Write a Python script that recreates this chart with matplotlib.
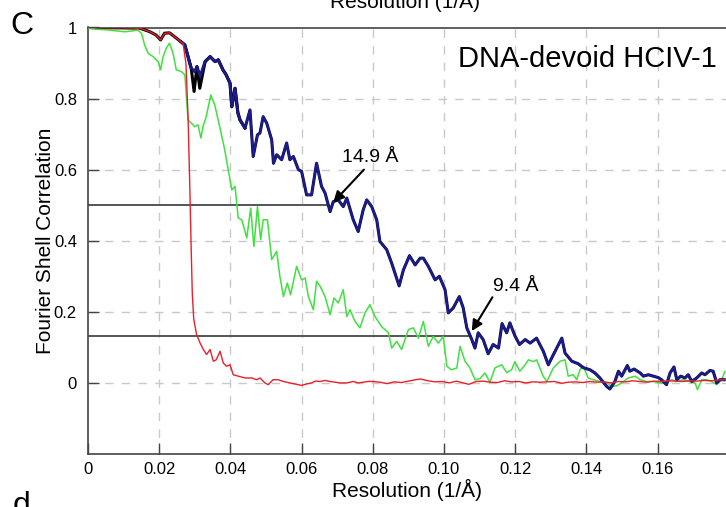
import matplotlib
matplotlib.use("Agg")
import matplotlib.pyplot as plt
import matplotlib.patheffects as pe

plt.rcParams['font.family'] = ['Liberation Sans', 'DejaVu Sans']

# ---------------- data ----------------
blue_x = [0.0261, 0.0272, 0.0281, 0.0290, 0.0300, 0.0306, 0.0315, 0.0329, 0.0343, 0.0357,
          0.0366, 0.0379, 0.0388, 0.0399, 0.0404, 0.0413, 0.0421, 0.0427, 0.0441, 0.0455,
          0.0464, 0.0476, 0.0483, 0.0492, 0.0502, 0.0516, 0.0521, 0.0530, 0.0544, 0.0558,
          0.0567, 0.0577, 0.0591, 0.0600, 0.0614, 0.0628, 0.0642, 0.0656, 0.0666, 0.0680,
          0.0689, 0.0703, 0.0717, 0.0727, 0.0745, 0.0759, 0.0773, 0.0783, 0.0797, 0.0811,
          0.0820, 0.0839, 0.0853, 0.0874, 0.0886, 0.0903, 0.0919, 0.0933, 0.0942, 0.0956,
          0.0975, 0.0987, 0.1003, 0.1012, 0.1026, 0.1043, 0.1054, 0.1064, 0.1078, 0.1087,
          0.1096, 0.1110, 0.1124, 0.1138, 0.1153, 0.1163, 0.1176, 0.1185, 0.1199, 0.1212,
          0.1228, 0.1242, 0.1260, 0.1279, 0.1293, 0.1312, 0.1331, 0.1340, 0.1359, 0.1377,
          0.1391, 0.1410, 0.1424, 0.1438, 0.1457, 0.1466, 0.1480, 0.1490, 0.1499, 0.1515,
          0.1522, 0.1534, 0.1551, 0.1560, 0.1574, 0.1588, 0.1602, 0.1611, 0.1625, 0.1635,
          0.1646, 0.1654, 0.1665, 0.1677, 0.1686, 0.1696, 0.1710, 0.1724, 0.1733, 0.1747,
          0.1756, 0.1766, 0.1775, 0.1787]
blue_y = [0.960, 0.951, 0.918, 0.885, 0.876, 0.890, 0.862, 0.904, 0.918, 0.904,
          0.909, 0.881, 0.867, 0.843, 0.777, 0.829, 0.760, 0.740, 0.717, 0.768,
          0.637, 0.698, 0.703, 0.749, 0.731, 0.684, 0.618, 0.642, 0.628, 0.675,
          0.628, 0.637, 0.600, 0.595, 0.529, 0.529, 0.618, 0.553, 0.534, 0.482,
          0.510, 0.515, 0.496, 0.520, 0.459, 0.426, 0.487, 0.515, 0.496, 0.459,
          0.398, 0.375, 0.337, 0.273, 0.318, 0.358, 0.332, 0.351, 0.351, 0.328,
          0.290, 0.300, 0.262, 0.197, 0.211, 0.243, 0.211, 0.155, 0.122, 0.098,
          0.141, 0.122, 0.082, 0.108, 0.098, 0.167, 0.141, 0.169, 0.133, 0.108,
          0.122, 0.112, 0.126, 0.089, 0.051, 0.089, 0.126, 0.084, 0.061, 0.054,
          0.043, 0.037, 0.028, 0.014, -0.010, -0.017, 0.004, 0.033, 0.019, 0.049,
          0.033, 0.039, 0.028, 0.019, 0.023, 0.019, 0.015, 0.009, -0.005, 0.028,
          0.045, 0.009, 0.019, 0.014, 0.023, 0.004, 0.014, 0.028, 0.023, 0.035,
          0.033, 0.000, 0.009, 0.009]

black_x = [0.0, 0.0034, 0.0090, 0.0146, 0.0174, 0.0191, 0.0204, 0.0215, 0.0229, 0.0247,
           0.0261, 0.0272, 0.0281, 0.0290, 0.0298, 0.0306, 0.0314, 0.0329, 0.0343, 0.0357,
           0.0366, 0.0379, 0.0388, 0.0399, 0.0404, 0.0413, 0.0421, 0.0427, 0.0441]
black_y = [1.000, 0.999, 0.999, 0.998, 0.988, 0.979, 0.965, 0.984, 0.985, 0.971,
           0.960, 0.951, 0.918, 0.885, 0.820, 0.890, 0.829, 0.904, 0.918, 0.904,
           0.909, 0.881, 0.867, 0.843, 0.777, 0.829, 0.760, 0.740, 0.717]

green_x = [0.0, 0.0028, 0.0056, 0.0084, 0.0103, 0.0122, 0.0140, 0.0150, 0.0159, 0.0169,
           0.0183, 0.0197, 0.0204, 0.0211, 0.0220, 0.0229, 0.0239, 0.0248, 0.0262, 0.0272,
           0.0281, 0.0290, 0.0300, 0.0309, 0.0317, 0.0323, 0.0332, 0.0345, 0.0356, 0.0370,
           0.0384, 0.0399, 0.0404, 0.0413, 0.0422, 0.0432, 0.0446, 0.0457, 0.0466, 0.0476,
           0.0485, 0.0492, 0.0504, 0.0516, 0.0530, 0.0539, 0.0549, 0.0560, 0.0569, 0.0586,
           0.0600, 0.0610, 0.0619, 0.0633, 0.0642, 0.0652, 0.0666, 0.0680, 0.0691, 0.0703,
           0.0717, 0.0727, 0.0736, 0.0750, 0.0764, 0.0778, 0.0792, 0.0806, 0.0825, 0.0844,
           0.0853, 0.0867, 0.0881, 0.0900, 0.0914, 0.0928, 0.0942, 0.0956, 0.0970, 0.0984,
           0.0998, 0.1008, 0.1021, 0.1036, 0.1045, 0.1059, 0.1073, 0.1087, 0.1101, 0.1115,
           0.1129, 0.1143, 0.1162, 0.1176, 0.1190, 0.1199, 0.1213, 0.1228, 0.1237, 0.1251,
           0.1260, 0.1279, 0.1289, 0.1307, 0.1326, 0.1340, 0.1349, 0.1363, 0.1373, 0.1382,
           0.1391, 0.1405, 0.1419, 0.1438, 0.1457, 0.1471, 0.1485, 0.1499, 0.1518, 0.1537,
           0.1551, 0.1569, 0.1588, 0.1607, 0.1621, 0.1640, 0.1653, 0.1672, 0.1691, 0.1705,
           0.1712, 0.1724, 0.1738, 0.1752, 0.1766, 0.1780, 0.1789]
green_y = [0.998, 0.995, 0.993, 0.990, 0.988, 0.990, 0.993, 0.984, 0.951, 0.927,
           0.918, 0.904, 0.881, 0.918, 0.942, 0.956, 0.927, 0.881, 0.876, 0.867,
           0.740, 0.731, 0.721, 0.726, 0.689, 0.721, 0.749, 0.810, 0.782, 0.721,
           0.656, 0.571, 0.543, 0.553, 0.464, 0.459, 0.408, 0.492, 0.384, 0.496,
           0.403, 0.459, 0.459, 0.347, 0.370, 0.300, 0.243, 0.281, 0.248, 0.328,
           0.290, 0.295, 0.243, 0.206, 0.286, 0.272, 0.243, 0.192, 0.239, 0.225,
           0.262, 0.187, 0.206, 0.173, 0.155, 0.197, 0.220, 0.187, 0.158, 0.141,
           0.098, 0.117, 0.094, 0.150, 0.155, 0.126, 0.173, 0.103, 0.131, 0.112,
           0.131, 0.047, 0.037, 0.042, 0.103, 0.061, 0.042, 0.009, 0.012, 0.028,
           0.002, 0.042, 0.051, 0.029, 0.037, 0.060, 0.033, 0.051, 0.065, 0.060,
           0.065, 0.018, 0.004, 0.042, 0.061, 0.065, 0.019, 0.023, 0.009, 0.037,
           0.047, 0.014, 0.009, 0.004, 0.000, -0.010, -0.008, 0.000, 0.014, 0.019,
           0.009, 0.004, 0.004, 0.000, 0.000, 0.009, 0.004, 0.009, 0.004, 0.000,
           -0.019, 0.009, 0.009, 0.004, -0.005, 0.009, 0.032]

red_x = [0.0, 0.0050, 0.0100, 0.0146, 0.0174, 0.0191, 0.0204, 0.0215, 0.0229, 0.0247,
         0.0261, 0.0267, 0.0275, 0.0281, 0.0286, 0.0290, 0.0293, 0.0297, 0.0305, 0.0315,
         0.0324, 0.0333, 0.0343, 0.0352, 0.0360, 0.0371, 0.0380, 0.0389, 0.0399, 0.0408,
         0.0422, 0.0441, 0.0460, 0.0474, 0.0483, 0.0497, 0.0506, 0.0520, 0.0534, 0.0549,
         0.0567, 0.0581, 0.0600, 0.0614, 0.0628, 0.0638, 0.0652, 0.0666, 0.0680, 0.0694,
         0.0708, 0.0727, 0.0745, 0.0759, 0.0773, 0.0787, 0.0801, 0.0820, 0.0840, 0.0860,
         0.0880, 0.0900, 0.0920, 0.0935, 0.0955, 0.0975, 0.0995, 0.1015, 0.1035, 0.1050,
         0.1070, 0.1090, 0.1110, 0.1130, 0.1150, 0.1170, 0.1190, 0.1210, 0.1230, 0.1250,
         0.1270, 0.1290, 0.1310, 0.1330, 0.1350, 0.1370, 0.1390, 0.1410, 0.1430, 0.1450,
         0.1470, 0.1490, 0.1510, 0.1530, 0.1550, 0.1570, 0.1590, 0.1610, 0.1630, 0.1650,
         0.1670, 0.1690, 0.1710, 0.1730, 0.1750, 0.1770, 0.1787]
red_y = [1.000, 0.999, 0.999, 0.998, 0.988, 0.979, 0.965, 0.984, 0.985, 0.971,
         0.960, 0.955, 0.900, 0.750, 0.550, 0.370, 0.250, 0.180, 0.136, 0.112,
         0.094, 0.080, 0.094, 0.061, 0.065, 0.089, 0.056, 0.047, 0.051, 0.023,
         0.019, 0.014, 0.014, 0.009, 0.014, 0.000, -0.005, 0.009, 0.009, 0.004,
         0.000, -0.003, -0.007, -0.003, 0.000, 0.005, 0.004, 0.007, 0.004, 0.002,
         0.000, 0.000, 0.004, 0.000, 0.002, 0.004, 0.004, 0.002, -0.002, 0.003,
         0.001, 0.005, 0.009, 0.011, 0.006, 0.003, 0.004, 0.000, 0.005, 0.001,
         -0.004, 0.004, 0.005, 0.002, 0.001, 0.006, 0.003, 0.004, 0.000, 0.003,
         0.002, 0.003, 0.004, -0.001, 0.002, 0.003, 0.001, 0.004, 0.002, 0.003,
         0.000, 0.004, 0.003, 0.006, 0.004, 0.002, 0.005, 0.004, 0.006, 0.005,
         0.004, 0.006, 0.005, 0.007, 0.006, 0.008, 0.009]

thr_high = 0.5      # first criterion line
thr_high_end = 0.0675
thr_low = 0.133     # second criterion line
thr_low_end = 0.1067

annot_labels = ["14.9 Å", "9.4 Å"]
annot_tip = [(0.0689, 0.508), (0.1078, 0.146)]
annot_tail = [(0.0775, 0.600), (0.1136, 0.241)]
annot_text_pos = [(0.0713, 0.634), (0.1137, 0.271)]

x_ticks = [0, 0.02, 0.04, 0.06, 0.08, 0.10, 0.12, 0.14, 0.16]
x_ticklabels = ["0", "0.02", "0.04", "0.06", "0.08", "0.10", "0.12", "0.14", "0.16"]
y_ticks = [0, 0.2, 0.4, 0.6, 0.8, 1.0]
y_ticklabels = ["0", "0.2", "0.4", "0.6", "0.8", "1"]

# ---------------- figure ----------------
fig = plt.figure(figsize=(7.26, 5.07), dpi=100)
ax = fig.add_axes([88 / 726, 53 / 507, (726 - 88) / 726, (454 - 27.5) / 507])
ax.set_xlim(0, (726 - 88) / 3560)
ax.set_ylim(-0.2, 1.0)

grid_kw = dict(color='#c9c9c9', lw=1.0, dashes=(6, 6), zorder=0)
for xv in x_ticks[1:]:
    ax.axvline(xv, **grid_kw)
for yv in y_ticks[:-1]:
    ax.axhline(yv, **grid_kw)

ax.plot([0, thr_high_end], [thr_high, thr_high], color='#555555', lw=1.4, zorder=2)
ax.plot([0, thr_low_end], [thr_low, thr_low], color='#555555', lw=1.4, zorder=2)

ax.plot(black_x, black_y, color='black', lw=2.2, zorder=3, solid_joinstyle='round')
ax.plot(green_x, green_y, color='#3fe03f', lw=1.1, zorder=4)
ax.plot(blue_x, blue_y, color='#1c1c8e', lw=1.5, zorder=5,
        path_effects=[pe.Stroke(linewidth=2.2, foreground='#0d0d45'), pe.Normal()])
ax.plot(red_x, red_y, color='#e8202a', lw=1.0, zorder=6)

for lab, tip, tail, tpos in zip(annot_labels, annot_tip, annot_tail, annot_text_pos):
    ax.annotate('', xy=tip, xytext=tail,
                arrowprops=dict(arrowstyle='-|>', color='black', lw=1.5,
                                mutation_scale=16, shrinkA=0, shrinkB=0),
                zorder=7)
    ax.text(tpos[0], tpos[1], lab, fontsize=14, ha='left', va='center', zorder=7)

ax.text(0.985, 0.925, "DNA-devoid HCIV-1", transform=ax.transAxes, fontsize=21,
        ha='right', va='center')

ax.set_xticks(x_ticks)
ax.set_xticklabels(x_ticklabels)
ax.set_yticks(y_ticks)
ax.set_yticklabels(y_ticklabels)
ax.tick_params(direction='in', length=8, width=1.0, colors='#444444',
               labelcolor='black', labelsize=12)
ax.tick_params(axis='x', pad=6)
ax.tick_params(axis='y', pad=8)

for side in ['left', 'bottom', 'top']:
    ax.spines[side].set_color('#444444')
    ax.spines[side].set_linewidth(1.2)
ax.spines['right'].set_visible(False)

ax.set_xlabel("Resolution (1/Å)", fontsize=15, labelpad=1)
ax.set_ylabel("Fourier Shell Correlation", fontsize=15)
ax.yaxis.set_label_coords(-0.052, 0.5)

# panel letters and cut-off neighbouring panel text
fig.text(22 / 726, 1 - 26 / 507, "C", fontsize=23, ha='center', va='center')
fig.text(22 / 726, 1 - 506 / 507, "d", fontsize=23, ha='center', va='center')
fig.text(405 / 726, 1 - 8 / 507, "Resolution (1/Å)", fontsize=15, ha='center',
         va='baseline')

fig.savefig("out.png", dpi=100)
